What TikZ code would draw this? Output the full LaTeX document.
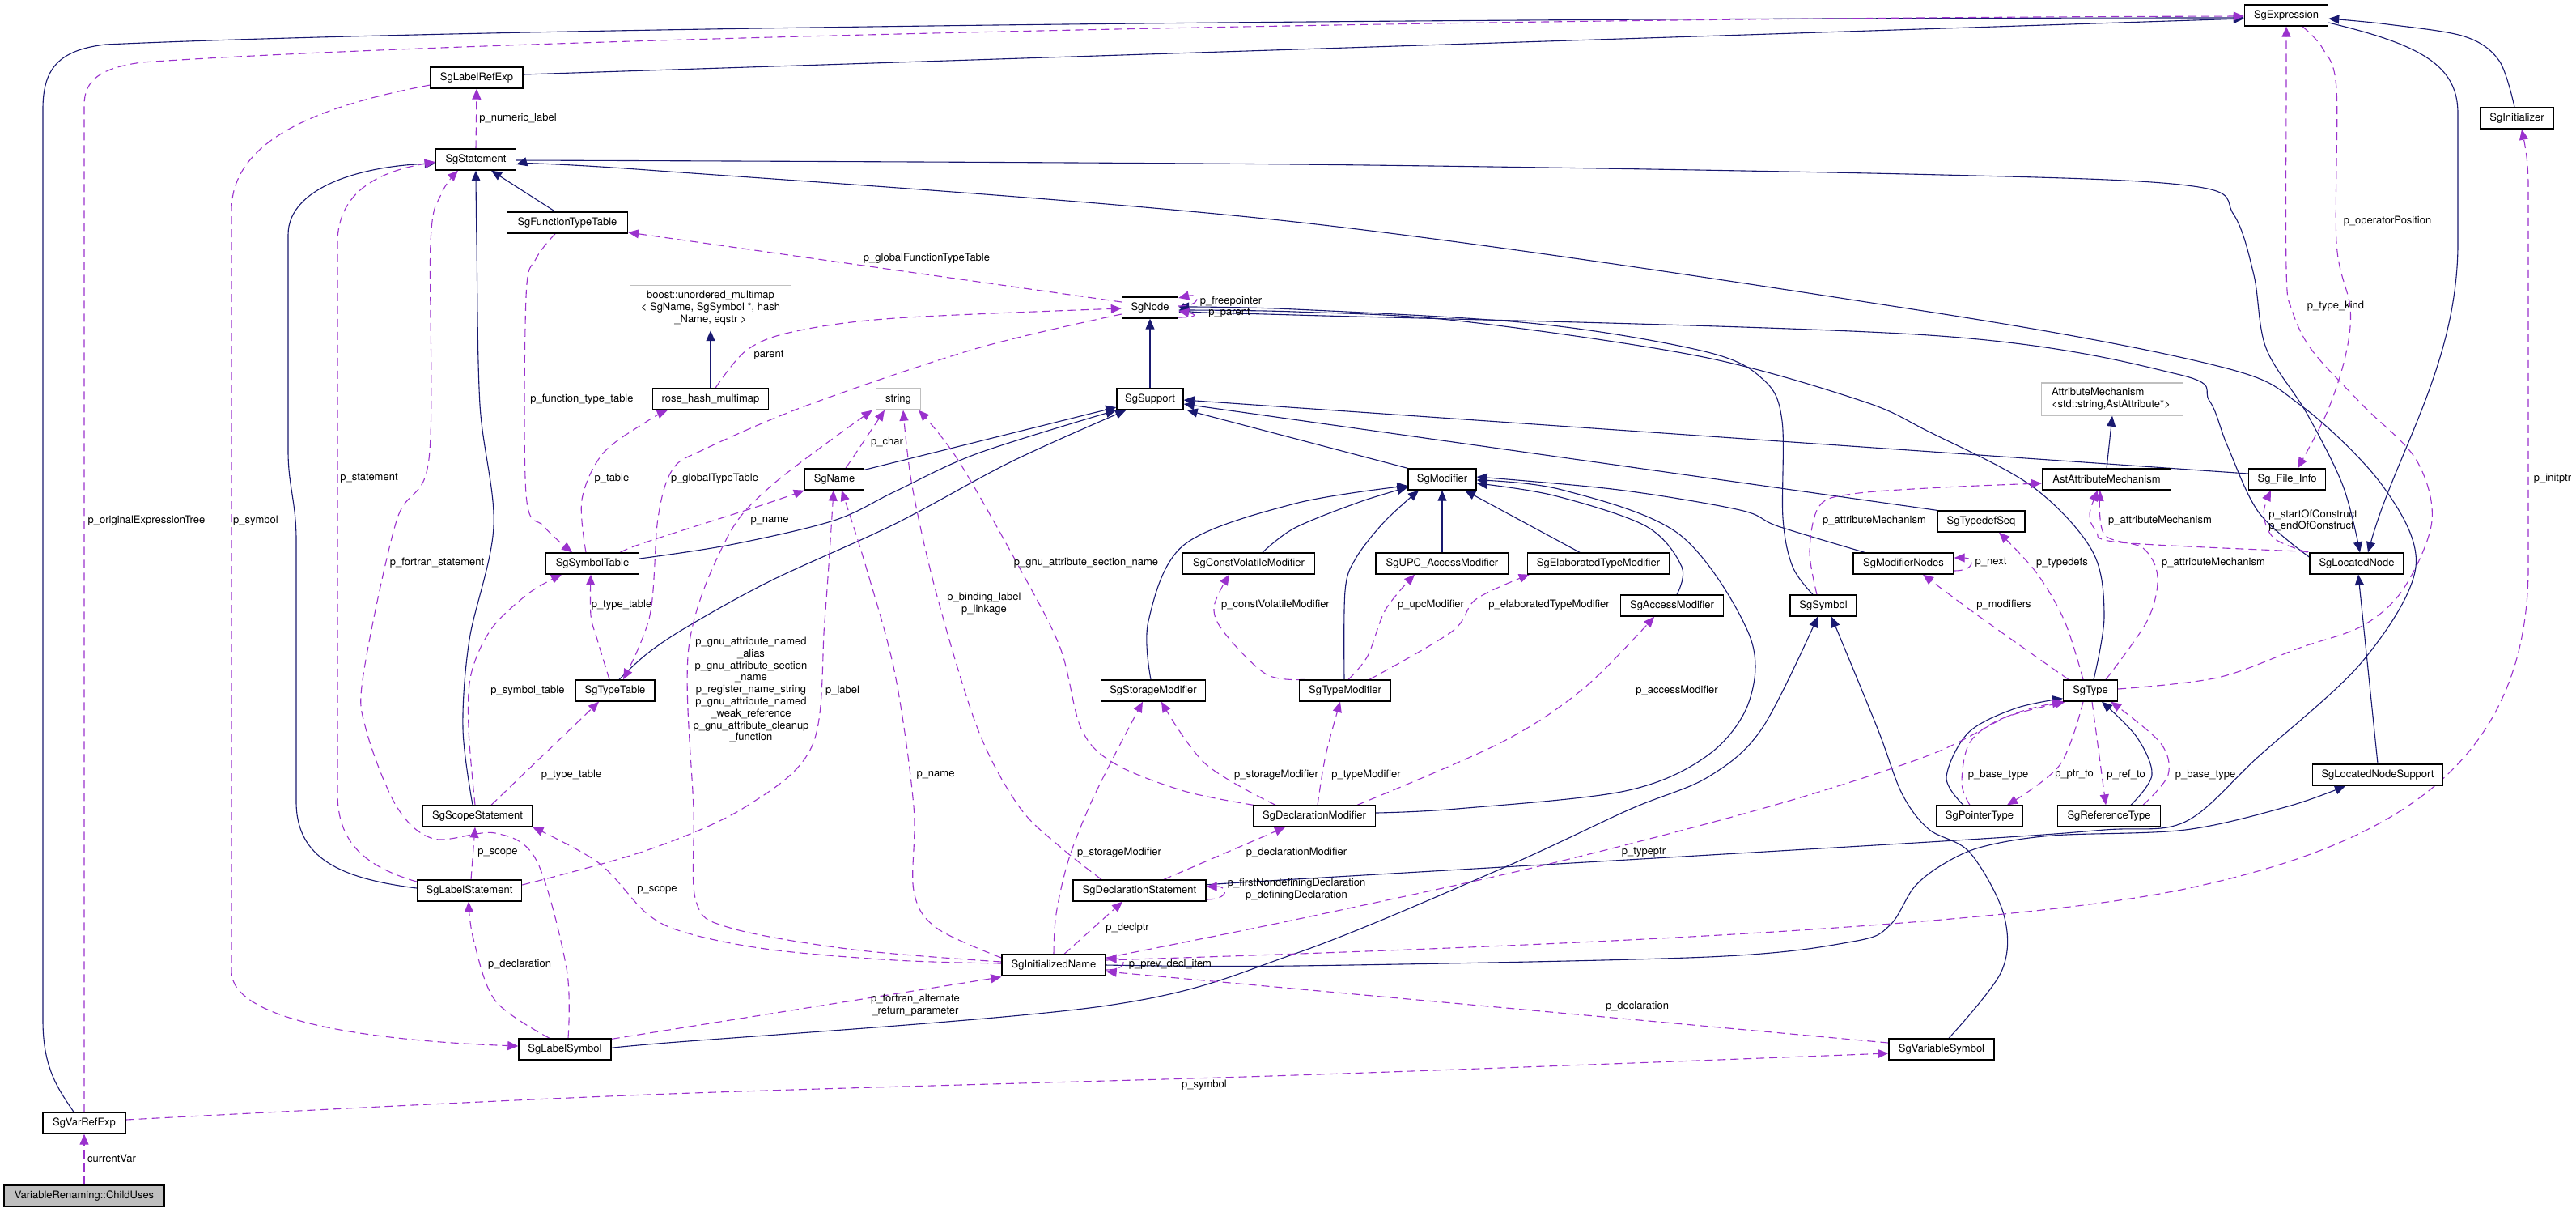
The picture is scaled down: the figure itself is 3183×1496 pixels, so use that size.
\documentclass[tikz,border=0pt]{standalone}
\usepackage{fontspec}
\setmainfont{TeX Gyre Heros}
\usetikzlibrary{arrows.meta,calc}
\definecolor{eblue}{HTML}{191970}
\definecolor{epurp}{HTML}{9A32CD}
\definecolor{gbord}{HTML}{BFBFBF}
\newcommand{\lblfont}{\fontsize{6.5}{7.4}\selectfont}
\pgfdeclarelayer{edges}
\pgfsetlayers{edges,main}
\begin{document}
\begin{tikzpicture}[x=0.5pt,y=-0.5pt,
  box/.style={draw=black, line width=0.7pt, inner sep=0pt, minimum height=13pt, font=\lblfont, fill=white},
  gbox/.style={draw=gbord, line width=0.7pt, inner sep=0pt, font=\lblfont, fill=white},
  inh/.style={draw=eblue, line width=0.55pt, -{Triangle[length=6.5pt,width=5.5pt]}},
  use/.style={draw=epurp, line width=0.55pt, dash pattern=on 5pt off 3pt, -{Triangle[length=6.5pt,width=5.5pt]}},
  lbl/.style={inner sep=0pt, font=\lblfont, align=center},
  sm/.style={smooth, tension=0.55}]
\useasboundingbox (0,0) rectangle (3183,1496);

% ---------- nodes ----------
\node[box,minimum width=99pt,fill=gbord] (ChildUses) at (104,1477) {VariableRenaming::ChildUses};
\node[box,minimum width=51pt] (SgVarRefExp) at (104,1387) {SgVarRefExp};
\node[box,minimum width=51.5pt] (SgExpression) at (2825,19) {SgExpression};
\node[box,minimum width=57pt] (SgLabelRefExp) at (589,96) {SgLabelRefExp};
\node[box,minimum width=49.5pt] (SgStatement) at (588,197) {SgStatement};
\node[box,minimum width=74.5pt] (SgFunctionTypeTable) at (701,275) {SgFunctionTypeTable};
\node[gbox,minimum width=99.5pt,minimum height=27.5pt,align=center] (boost) at (878,380) {boost::unordered\_multimap\\< SgName, SgSymbol *, hash\\\_Name, eqstr >};
\node[box,minimum width=71.5pt] (rosehash) at (878,493) {rose\_hash\_multimap};
\node[box,minimum width=34.5pt] (SgNode) at (1421,380) {SgNode};
\node[gbox,minimum width=27.5pt,minimum height=13pt] (string) at (1110,493) {string};
\node[box,minimum width=41pt] (SgSupport) at (1421,493) {SgSupport};
\node[box,minimum width=36.5pt] (SgName) at (1031,592) {SgName};
\node[box,minimum width=57.5pt] (SgSymbolTable) at (732,696) {SgSymbolTable};
\node[box,minimum width=49pt] (SgTypeTable) at (760,853) {SgTypeTable};
\node[box,minimum width=67.5pt] (SgScopeStatement) at (590,1008) {SgScopeStatement};
\node[box,minimum width=64.5pt] (SgLabelStatement) at (580,1100) {SgLabelStatement};
\node[box,minimum width=57pt] (SgLabelSymbol) at (698,1296) {SgLabelSymbol};
\node[box,minimum width=42pt] (SgModifier) at (1782,592) {SgModifier};
\node[box,minimum width=81.5pt] (SgConstVolatileModifier) at (1543,696) {SgConstVolatileModifier};
\node[box,minimum width=82pt] (SgUPCAccessModifier) at (1782,696) {SgUPC\_AccessModifier};
\node[box,minimum width=87.5pt] (SgElaboratedTypeModifier) at (1975,696) {SgElaboratedTypeModifier};
\node[box,minimum width=63.5pt] (SgAccessModifier) at (2066,748) {SgAccessModifier};
\node[box,minimum width=64.5pt] (SgStorageModifier) at (1425,853) {SgStorageModifier};
\node[box,minimum width=56.5pt] (SgTypeModifier) at (1662,853) {SgTypeModifier};
\node[box,minimum width=75.5pt] (SgDeclarationModifier) at (1624,1008) {SgDeclarationModifier};
\node[box,minimum width=82pt] (SgDeclarationStatement) at (1408,1100) {SgDeclarationStatement};
\node[box,minimum width=64pt] (SgInitializedName) at (1302,1192) {SgInitializedName};
\node[box,minimum width=41pt] (SgSymbol) at (2253,748) {SgSymbol};
\node[box,minimum width=62pt] (SgModifierNodes) at (2352,696) {SgModifierNodes};
\node[box,minimum width=54pt] (SgTypedefSeq) at (2448,644) {SgTypedefSeq};
\node[box,minimum width=79.5pt] (AstAttributeMechanism) at (2603,592) {AstAttributeMechanism};
\node[gbox,minimum width=87.5pt,minimum height=20pt,align=left,text width=75pt] (AttributeMechanism) at (2610,493) {AttributeMechanism\\<std::string,AstAttribute*>};
\node[box,minimum width=47.5pt] (SgFileInfo) at (2826,592) {Sg\_File\_Info};
\node[box,minimum width=58pt] (SgLocatedNode) at (2912,696) {SgLocatedNode};
\node[box,minimum width=45.5pt] (SgInitializer) at (3110,146) {SgInitializer};
\node[box,minimum width=33.5pt] (SgType) at (2583,853) {SgType};
\node[box,minimum width=53.5pt] (SgPointerType) at (2446,1008) {SgPointerType};
\node[box,minimum width=63.5pt] (SgReferenceType) at (2606,1008) {SgReferenceType};
\node[box,minimum width=80.5pt] (SgLocatedNodeSupport) at (2938,957) {SgLocatedNodeSupport};
\node[box,minimum width=65pt] (SgVariableSymbol) at (2399,1296) {SgVariableSymbol};

\begin{pgfonlayer}{edges}
\fill[white] (0,0) rectangle (3183,1496);
% ---------- inheritance edges ----------
\draw[inh] ($(SgVarRefExp.north)+(-13,0)$) .. controls (72,1345) and (53,1320) .. (53,1260) -- (53,135) .. controls (53,85) and (72,62) .. (130,55) .. controls (600,34) and (1800,22) .. ($(SgExpression.west)+(0,3)$);
\draw[inh] ($(SgLabelRefExp.east)+(0,-4)$) -- ($(SgExpression.west)+(0,4)$);
\draw[inh] plot[sm] coordinates {($(SgInitializer.north)+(-3,0)$) (3088,75) (3045,45) (2950,30) ($(SgExpression.east)+(0,4)$)};
\draw[inh] ($(SgExpression.east)+(0,9)$) .. controls (2990,55) and (3037,80) .. (3037,140) -- (3037,300) .. controls (3037,450) and (2960,560) .. ($(SgLocatedNode.north)+(14,0)$);
\draw[inh] plot[sm] coordinates {($(SgStatement.east)+(0,1)$) (1600,203) (2400,216) (2710,230) (2760,265) (2785,340) (2800,430) (2850,510) (2895,600) ($(SgLocatedNode.north)+(4,0)$)};
\draw[inh] plot[sm] coordinates {($(SgDeclarationStatement.east)+(0,-7)$) (1600,1086) (2400,1039) (2600,1025) (2700,1015) (2790,935) (2919,817) (2985,700) (2944,600) (2842,500) (2740,452) (2383,385) (1600,274) (800,210) ($(SgStatement.east)+(0,6)$)};
\draw[inh] plot[sm] coordinates {($(SgScopeStatement.north)+(-6,0)$) (572,900) (580,790) (610,650) (593,500) (589,300) (SgStatement.south)};
\draw[inh] ($(SgLabelStatement.west)+(0,-3)$) .. controls (420,1085) and (366,1060) .. (366,990) -- (366,667) .. controls (366,620) and (356,600) .. (356,557) -- (356,290) .. controls (356,230) and (450,205) .. ($(SgStatement.west)+(0,5)$);
\draw[inh] ($(SgFunctionTypeTable.north)+(-15,0)$) -- ($(SgStatement.south)+(19,0)$);
\draw[inh] (SgSupport.north) -- (SgNode.south);
\draw[inh] ($(SgName.north east)+(0,2)$) -- ($(SgSupport.west)+(0,10)$);
\draw[inh] plot[sm] coordinates {($(SgSymbolTable.east)+(0,-6)$) (902,673) (1030,643) (1106,607) (1208,560) (SgSupport.south west)};
\draw[inh] plot[sm] coordinates {($(SgTypeTable.north)+(5,0)$) (800,807) (851,773) (953,717) (1106,647) (1250,570) ($(SgSupport.south west)+(12,0)$)};
\draw[inh] (SgModifier.north west) -- ($(SgSupport.south east)+(4,0)$);
\draw[inh] (SgTypedefSeq.north west) -- ($(SgSupport.east)+(0,6)$);
\draw[inh] ($(SgFileInfo.west)+(0,-7)$) -- ($(SgSupport.east)+(0,1)$);
\draw[inh] plot[sm] coordinates {($(SgSymbol.north)+(-13,0)$) (2215,700) (2203,640) (2202,520) (2180,470) (2110,435) (1900,400) (1600,382) ($(SgNode.east)+(0,-1)$)};
\draw[inh] plot[sm] coordinates {($(SgType.north)+(4,0)$) (2600,760) (2585,680) (2510,600) (2383,533) (2300,495) (2100,440) (1800,396) (1600,385) ($(SgNode.east)+(0,3)$)};
\draw[inh] plot[sm] coordinates {($(SgLocatedNode.west)+(0,-8)$) (2791,633) (2752,550) (2730,495) (2690,462) (2383,414) (1600,389) ($(SgNode.east)+(0,7)$)};
\draw[inh] plot[sm] coordinates {($(SgStorageModifier.north)+(-3,0)$) (1419,767) (1463,673) (1600,622) ($(SgModifier.west)+(0,8)$)};
\draw[inh] plot[sm] coordinates {($(SgConstVolatileModifier.north)+(17,0)$) (1600,652) (1680,620) ($(SgModifier.west)+(0,10)$)};
\draw[inh] plot[sm] coordinates {($(SgTypeModifier.north)+(-1,0)$) (1662,730) (1675,690) (1710,645) ($(SgModifier.south)+(-29,0)$)};
\draw[inh] (SgUPCAccessModifier.north) -- (SgModifier.south);
\draw[inh] ($(SgElaboratedTypeModifier.north)+(-23,0)$) -- ($(SgModifier.south)+(28,0)$);
\draw[inh] plot[sm] coordinates {($(SgAccessModifier.north)+(6,0)$) (2078,700) (2034,650) (1920,612) ($(SgModifier.east)+(0,5)$)};
\draw[inh] plot[sm] coordinates {($(SgDeclarationModifier.east)+(0,-4)$) (1800,999) (2008,977) (2110,933) (2161,867) (2161,783) (2075,660) (1930,605) ($(SgModifier.east)+(0,1)$)};
\draw[inh] plot[sm] coordinates {($(SgModifierNodes.north)+(-48,0)$) (2197,650) (2150,630) (2000,605) ($(SgModifier.east)+(0,-3)$)};
\draw[inh] (AstAttributeMechanism.north) -- (AttributeMechanism.south);
\draw[inh] (SgLocatedNodeSupport.north) -- ($(SgLocatedNode.south)+(2,0)$);
\draw[inh] plot[sm] coordinates {(SgInitializedName.east) (1600,1193) (2110,1182) (2289,1163) (2335,1143) (2365,1096) (2400,1068) (2449,1046) (2536,1032) (2700,1025) (2827,996) ($(SgLocatedNodeSupport.south)+(-40,0)$)};
\draw[inh] plot[sm] coordinates {(SgLabelSymbol.east) (800,1290) (1361,1243) (1600,1178) (1855,1073) (2013,1000) (2110,960) (2177,900) ($(SgSymbol.south)+(-7,0)$)};
\draw[inh] plot[sm] coordinates {($(SgVariableSymbol.north)+(9,0)$) (2473,1200) (2476,1130) (2434,1053) (2383,1024) (2350,980) (2320,900) ($(SgSymbol.south)+(10,0)$)};
\draw[inh] plot[sm] coordinates {($(SgPointerType.north)+(-20,0)$) (2405,960) (2432,905) (2490,875) ($(SgType.south west)+(0,-4)$)};
\draw[inh] plot[sm] coordinates {($(SgReferenceType.north)+(27,0)$) (2659,957) (2640,910) ($(SgType.south)+(14,0)$)};
\draw[inh] (rosehash.north) -- (boost.south);

% ---------- usage edges ----------
\draw[use] (ChildUses.north) -- (SgVarRefExp.south);
\draw[use] (SgVarRefExp.north) -- (104,130) .. controls (104,98) and (125,84) .. (175,77) .. controls (600,48) and (1800,22) .. ($(SgExpression.west)+(0,1)$);
\draw[use] ($(SgLabelRefExp.west)+(0,9)$) .. controls (400,130) and (286,170) .. (286,260) -- (286,1200) .. controls (286,1260) and (450,1285) .. ($(SgLabelSymbol.west)+(0,-4)$);
\draw[use] (SgStatement.north) -- (SgLabelRefExp.south);
\draw[use] ($(SgLabelStatement.west)+(0,-11)$) .. controls (450,1070) and (417,1040) .. (417,980) -- (417,300) .. controls (417,230) and (480,210) .. ($(SgStatement.west)+(0,3)$);
\draw[use] plot[sm] coordinates {($(SgLabelSymbol.north)+(4,0)$) (700,1196) (663,1063) (612,1029) (536,1036) (490,996) (452,900) (449,833) (490,643) (530,567) (532,300) (545,240) ($(SgStatement.south)+(-22,0)$)};
\draw[use] ($(SgNode.west)+(0,-7)$) -- ($(SgFunctionTypeTable.east)+(0,12)$);
\draw[use] plot[sm] coordinates {($(SgFunctionTypeTable.south)+(-15,0)$) (662,320) (650,367) (650,610) (672,650) ($(SgSymbolTable.north)+(-25,0)$)};
\draw[use] plot[sm] coordinates {($(SgSymbolTable.north)+(-8,0)$) (719,617) (745,560) (800,520) ($(rosehash.south west)+(19,0)$)};
\draw[use] plot[sm] coordinates {($(SgScopeStatement.north)+(-3,0)$) (579,900) (582,833) (607,777) (653,733) ($(SgSymbolTable.south)+(-38,0)$)};
\draw[use] plot[sm] coordinates {($(SgTypeTable.north)+(-7,0)$) (738,790) (730,760) ($(SgSymbolTable.south)+(-2,0)$)};
\draw[use] plot[sm] coordinates {($(SgSymbolTable.north east)+(-24,0)$) (800,669) (938,625) (SgName.south west)};
\draw[use] ($(SgScopeStatement.north)+(17,0)$) -- ($(SgTypeTable.south)+(-20,0)$);
\draw[use] plot[sm] coordinates {($(SgNode.west)+(0,8)$) (1208,430) (999,500) (870,555) (831,580) (813,640) (803,760) ($(SgTypeTable.north)+(10,0)$)};
\draw[use] ($(SgLabelStatement.north)+(2,0)$) -- ($(SgScopeStatement.south)+(-3,0)$);
\draw[use] plot[sm] coordinates {($(SgInitializedName.west)+(0,-2)$) (1106,1186) (953,1173) (851,1153) (800,1129) (740,1066) (SgScopeStatement.south east)};
\draw[use] plot[sm] coordinates {($(SgLabelSymbol.north)+(-19,0)$) (612,1236) (585,1160) ($(SgLabelStatement.south)+(-1,0)$)};
\draw[use] plot[sm] coordinates {($(SgVarRefExp.east)+(0,-4)$) (800,1352) (1600,1328) ($(SgVariableSymbol.west)+(0,5)$)};
\draw[use] ($(SgVariableSymbol.west)+(0,-8)$) -- ($(SgInitializedName.east)+(0,8)$);
\draw[use] ($(SgLabelSymbol.north east)+(0,1)$) -- ($(SgInitializedName.south west)+(0,1)$);
\draw[use] plot[sm] coordinates {($(SgInitializedName.west)+(0,-9)$) (1157,1146) (1129,1100) (1129,996) (1106,833) (1070,700) ($(SgName.south)+(9,0)$)};
\draw[use] plot[sm] coordinates {($(SgInitializedName.west)+(0,-4)$) (1055,1173) (902,1146) (860,1113) (857,1000) (851,800) (897,667) (953,600) ($(string.south west)+(-4,0)$)};
\draw[use] plot[sm] coordinates {($(SgLabelStatement.east)+(0,-7)$) (800,1050) (922,996) (1004,920) (1019,767) ($(SgName.south)+(-1,0)$)};
\draw[use] ($(SgName.north)+(14,0)$) -- ($(string.south)+(-17,0)$);
\draw[use] plot[sm] coordinates {($(SgDeclarationStatement.north)+(-47,0)$) (1310,1046) (1259,996) (1208,900) (1157,733) (1127,600) ($(string.south)+(6,0)$)};
\draw[use] plot[sm] coordinates {($(SgDeclarationModifier.north west)+(1,0)$) (1463,977) (1377,943) (1336,900) (1310,800) (1259,700) (1183,567) ($(string.south east)+(-3,0)$)};
\draw[use] plot[sm] coordinates {(SgInitializedName.north) (1305,1129) (1320,1063) (1346,996) (1377,933) ($(SgStorageModifier.south)+(-13,0)$)};
\draw[use] plot[sm] coordinates {($(SgDeclarationModifier.north)+(-48,0)$) (1489,943) ($(SgStorageModifier.south)+(10,0)$)};
\draw[use] ($(SgInitializedName.north)+(13,0)$) -- ($(SgDeclarationStatement.south)+(-21,0)$);
\draw[use] ($(SgDeclarationStatement.north)+(30,0)$) -- ($(SgDeclarationModifier.south)+(-36,0)$);
\draw[use] ($(SgDeclarationStatement.east)+(0,11)$) .. controls +(28,0) and +(28,0) .. ($(SgDeclarationStatement.east)+(0,-5)$);
\draw[use] ($(SgInitializedName.east)+(0,6)$) .. controls +(26,0) and +(26,0) .. ($(SgInitializedName.east)+(0,-8)$);
\draw[use] plot[sm] coordinates {($(SgInitializedName.east)+(0,-9)$) (1600,1136) (1906,1069) (2187,996) (2383,933) (2485,883) (SgType.south west)};
\draw[use] ($(SgInitializedName.east)+(0,-6)$) .. controls (1800,1172) and (2450,1150) .. (2700,1098) .. controls (2950,1045) and (3124,950) .. (3124,700) -- (3124,230) .. controls (3124,200) and (3120,180) .. ($(SgInitializer.south)+(6,0)$);
\draw[use] plot[sm] coordinates {($(SgType.east)+(0,-2)$) (2740,837) (2842,800) (2919,773) (2970,727) (3005,643) (2985,567) (2919,500) (2857,433) (2832,383) (2825,333) (2825,100) (SgExpression.south)};
\draw[use] plot[sm] coordinates {($(SgExpression.south)+(20,0)$) (2870,60) (2887,110) (2887,300) (2904,380) (2898,440) (2875,510) ($(SgFileInfo.north)+(13,0)$)};
\draw[use] plot[sm] coordinates {($(SgLocatedNode.north west)+(-2,0)$) (2810,665) (2797,635) ($(SgFileInfo.south)+(-20,0)$)};
\draw[use] plot[sm] coordinates {($(SgLocatedNode.north west)+(-1,-1)$) (2620,670) (2590,655) (2582,635) ($(AstAttributeMechanism.south)+(-11,0)$)};
\draw[use] plot[sm] coordinates {($(SgType.north)+(19,0)$) (2653,767) (2666,713) (2648,677) (2600,660) ($(AstAttributeMechanism.south)+(-8,0)$)};
\draw[use] plot[sm] coordinates {($(SgSymbol.north)+(-8,0)$) (2236,680) (2248,625) (2289,610) (2400,602) ($(AstAttributeMechanism.west)+(0,5)$)};
\draw[use] plot[sm] coordinates {($(SgType.north)+(-9,0)$) (2551,767) (2516,707) ($(SgTypedefSeq.south)+(22,0)$)};
\draw[use] plot[sm] coordinates {($(SgType.north)+(-27,0)$) (2500,800) (2434,753) ($(SgModifierNodes.south)+(24,0)$)};
\draw[use] ($(SgModifierNodes.east)+(0,9)$) .. controls +(26,0) and +(26,0) .. ($(SgModifierNodes.east)+(0,-7)$);
\draw[use] plot[sm] coordinates {($(SgPointerType.north)+(-12,0)$) (2424,967) (2434,917) (2475,887) ($(SgType.south west)+(3,0)$)};
\draw[use] plot[sm] coordinates {($(SgType.south)+(-9,0)$) (2545,945) ($(SgPointerType.north)+(34,0)$)};
\draw[use] ($(SgType.south)+(2,0)$) -- ($(SgReferenceType.north)+(-4,0)$);
\draw[use] plot[sm] coordinates {($(SgReferenceType.north)+(42,0)$) (2679,957) (2669,917) ($(SgType.south east)+(-9,0)$)};
\draw[use] plot[sm] coordinates {($(SgTypeModifier.north west)+(7,0)$) (1565,833) (1514,783) (1500,750) ($(SgConstVolatileModifier.south)+(-24,0)$)};
\draw[use] plot[sm] coordinates {($(SgTypeModifier.north)+(4,0)$) (1690,810) (1712,753) ($(SgUPCAccessModifier.south)+(-34,0)$)};
\draw[use] plot[sm] coordinates {($(SgTypeModifier.north)+(30,0)$) (1794,780) (1824,740) ($(SgElaboratedTypeModifier.south west)+(3,0)$)};
\draw[use] plot[sm] coordinates {($(SgDeclarationModifier.north)+(53,0)$) (1855,917) (1957,850) ($(SgAccessModifier.south)+(-22,0)$)};
\draw[use] plot[sm] coordinates {($(SgDeclarationModifier.north)+(4,0)$) (1638,933) ($(SgTypeModifier.south)+(-6,0)$)};
\draw[use] plot[sm] coordinates {($(rosehash.north)+(6,0)$) (922,433) (979,410) (1106,393) ($(SgNode.west)+(0,1)$)};
\draw[use] ($(SgNode.east)+(0,-2)$) .. controls +(30,0) and +(26,-6) .. ($(SgNode.east)+(0,-12)$);
\draw[use] ($(SgNode.east)+(0,12)$) .. controls +(25,0) and +(22,4) .. ($(SgNode.east)+(0,4)$);
\end{pgfonlayer}

% ---------- labels ----------
\node[lbl] (L1) at (138,1431) {currentVar};
\node[lbl] (L2) at (181,643) {p\_originalExpressionTree};
\node[lbl] (L3) at (316,643) {p\_symbol};
\node[lbl] (L4) at (640,146) {p\_numeric\_label};
\node[lbl] (L5) at (456,591) {p\_statement};
\node[lbl] (L6) at (540,695) {p\_fortran\_statement};
\node[lbl] (L7) at (1145,319) {p\_globalFunctionTypeTable};
\node[lbl] (L8) at (719,493) {p\_function\_type\_table};
\node[lbl] (L9) at (756,591) {p\_table};
\node[lbl] (L10) at (652,853) {p\_symbol\_table};
\node[lbl] (L11) at (768,747) {p\_type\_table};
\node[lbl] (L12) at (951,643) {p\_name};
\node[lbl] (L13) at (706,957) {p\_type\_table};
\node[lbl] (L14) at (883,591) {p\_globalTypeTable};
\node[lbl] (L15) at (615,1053) {p\_scope};
\node[lbl] (L16) at (812,1099) {p\_scope};
\node[lbl] (L17) at (642,1191) {p\_declaration};
\node[lbl] (L18) at (1488,1340) {p\_symbol};
\node[lbl] (L19) at (2023,1243) {p\_declaration};
\node[lbl] (L20) at (1131,1242) {p\_fortran\_alternate\\\_return\_parameter};
\node[lbl] (L21) at (1156,957) {p\_name};
\node[lbl] (L22) at (928,852) {p\_gnu\_attribute\_named\\\_alias\\p\_gnu\_attribute\_section\\\_name\\p\_register\_name\_string\\p\_gnu\_attribute\_named\\\_weak\_reference\\p\_gnu\_attribute\_cleanup\\\_function};
\node[lbl] (L23) at (1041,853) {p\_label};
\node[lbl] (L24) at (1096,546) {p\_char};
\node[lbl] (L25) at (1216,746) {p\_binding\_label\\p\_linkage};
\node[lbl] (L26) at (1342,695) {p\_gnu\_attribute\_section\_name};
\node[lbl] (L27) at (1383,1053) {p\_storageModifier};
\node[lbl] (L28) at (1577,957) {p\_storageModifier};
\node[lbl] (L29) at (1393,1146) {p\_declptr};
\node[lbl] (L30) at (1602,1053) {p\_declarationModifier};
\node[lbl] (L31) at (1602,1099) {p\_firstNondefiningDeclaration\\p\_definingDeclaration};
\node[lbl] (L32) at (1446,1191) {p\_prev\_decl\_item};
\node[lbl] (L33) at (2031,1053) {p\_typeptr};
\node[lbl] (L34) at (3154,591) {p\_initptr};
\node[lbl] (L35) at (2886,378) {p\_type\_kind};
\node[lbl] (L36) at (2950,273) {p\_operatorPosition};
\node[lbl,align=left] (L37) at (2858,643) {p\_startOfConstruct\\p\_endOfConstruct};
\node[lbl] (L38) at (2669,643) {p\_attributeMechanism};
\node[lbl] (L39) at (2735,695) {p\_attributeMechanism};
\node[lbl] (L40) at (2316,643) {p\_attributeMechanism};
\node[lbl] (L41) at (2548,695) {p\_typedefs};
\node[lbl] (L42) at (2476,747) {p\_modifiers};
\node[lbl] (L43) at (2460,695) {p\_next};
\node[lbl] (L44) at (2469,957) {p\_base\_type};
\node[lbl] (L45) at (2563,957) {p\_ptr\_to};
\node[lbl] (L46) at (2627,957) {p\_ref\_to};
\node[lbl] (L47) at (2725,957) {p\_base\_type};
\node[lbl] (L48) at (1576,747) {p\_constVolatileModifier};
\node[lbl] (L49) at (1768,747) {p\_upcModifier};
\node[lbl] (L50) at (1914,747) {p\_elaboratedTypeModifier};
\node[lbl] (L51) at (2072,853) {p\_accessModifier};
\node[lbl] (L52) at (1688,957) {p\_typeModifier};
\node[lbl] (L53) at (950,439) {parent};
\node[lbl] (L54) at (1521,372) {p\_freepointer};
\node[lbl] (L55) at (1519,387) {p\_parent};
\end{tikzpicture}
\end{document}
